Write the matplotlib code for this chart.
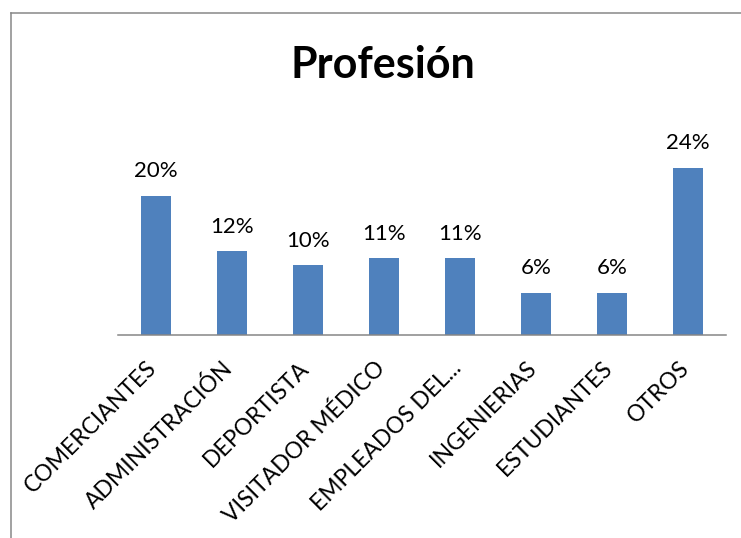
import matplotlib.pyplot as plt
import matplotlib.transforms as mtransforms
from matplotlib.lines import Line2D

categories = ["COMERCIANTES", "ADMINISTRACIÓN", "DEPORTISTA", "VISITADOR MÉDICO",
              "EMPLEADOS DEL...", "INGENIERIAS", "ESTUDIANTES", "OTROS"]
percentages = [20, 12, 10, 11, 11, 6, 6, 24]
title = "Profesión"

plt.rcParams["font.family"] = ["Lato", "DejaVu Sans"]

fig = plt.figure(figsize=(7.41, 5.38), dpi=100)
ax = fig.add_axes([118 / 741, 203 / 538, 608 / 741, 195 / 538])

x = list(range(len(categories)))
bars = ax.bar(x, percentages, width=0.4, color="#4F81BD", zorder=2)

for bar, value in zip(bars, percentages):
    ax.annotate(f"{value}%", (bar.get_x() + bar.get_width() / 2, value),
                xytext=(0, 13.5), textcoords="offset points",
                ha="center", va="baseline", fontsize=16, color="black")

ax.set_xlim(-0.5, len(categories) - 0.5)
ax.set_ylim(0, 28)
ax.set_xticks(x)
ax.set_xticklabels(categories, rotation=45, ha="right", va="top", fontsize=16.5)
ax.tick_params(axis="x", length=0, pad=16)
shift = mtransforms.ScaledTranslation(5 / 100, 0, fig.dpi_scale_trans)
for lbl in ax.get_xticklabels():
    lbl.set_transform(lbl.get_transform() + shift)
ax.set_yticks([])
for side in ["top", "right", "left"]:
    ax.spines[side].set_visible(False)
ax.spines["bottom"].set_color("#868686")
ax.spines["bottom"].set_linewidth(1.1)

fig.text(383 / 741, 1 - 78 / 538, title, ha="center", va="baseline",
         fontsize=31, fontweight="bold")

# chart frame, only left and top edges are visible in the crop
fig.add_artist(Line2D([11 / 741, 11 / 741], [0, 1 - 13 / 538],
                      color="#878787", lw=1.1, transform=fig.transFigure))
fig.add_artist(Line2D([11 / 741, 1], [1 - 13 / 538, 1 - 13 / 538],
                      color="#878787", lw=1.1, transform=fig.transFigure))

fig.savefig("out.png", dpi=100)
